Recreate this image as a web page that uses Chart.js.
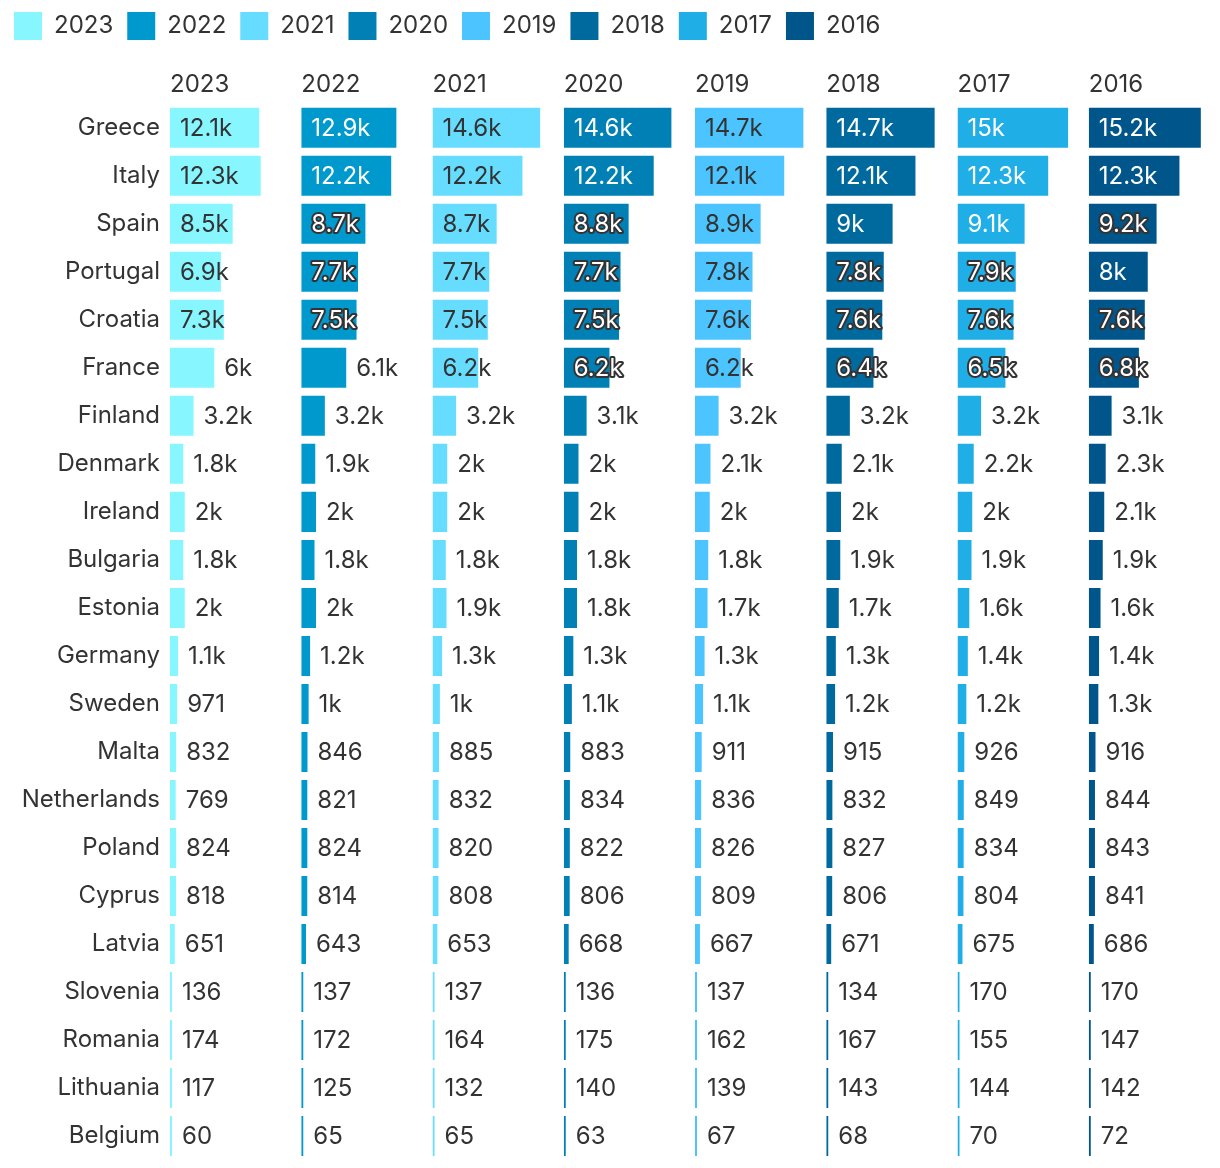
<!DOCTYPE html>
<html>
<head>
<meta charset="utf-8">
<script src="https://cdn.jsdelivr.net/npm/chart.js@4.4.1/dist/chart.umd.min.js"></script>
<style>
  html, body { margin: 0; padding: 0; background: #ffffff; }
  #wrap { width: 1220px; height: 1168px; }
</style>
</head>
<body>
<div id="wrap"><canvas id="c" width="1220" height="1168"></canvas></div>
<script>
// ---- data ----
const countries = ["Greece","Italy","Spain","Portugal","Croatia","France","Finland","Denmark","Ireland","Bulgaria","Estonia","Germany","Sweden","Malta","Netherlands","Poland","Cyprus","Latvia","Slovenia","Romania","Lithuania","Belgium"];
const years = ["2023","2022","2021","2020","2019","2018","2017","2016"];
const v2023 = [12100,12300,8500,6900,7300,6000,3200,1800,2000,1800,2000,1100,971,832,769,824,818,651,136,174,117,60];
const v2022 = [12900,12200,8700,7700,7500,6100,3200,1900,2000,1800,2000,1200,1000,846,821,824,814,643,137,172,125,65];
const v2021 = [14600,12200,8700,7700,7500,6200,3200,2000,2000,1800,1900,1300,1000,885,832,820,808,653,137,164,132,65];
const v2020 = [14600,12200,8800,7700,7500,6200,3100,2000,2000,1800,1800,1300,1100,883,834,822,806,668,136,175,140,63];
const v2019 = [14700,12100,8900,7800,7600,6200,3200,2100,2000,1800,1700,1300,1100,911,836,826,809,667,137,162,139,67];
const v2018 = [14700,12100,9000,7800,7600,6400,3200,2100,2000,1900,1700,1300,1200,915,832,827,806,671,134,167,143,68];
const v2017 = [15000,12300,9100,7900,7600,6500,3200,2200,2000,1900,1600,1400,1200,926,849,834,804,675,170,155,144,70];
const v2016 = [15200,12300,9200,8000,7600,6800,3100,2300,2100,1900,1600,1400,1300,916,844,843,841,686,170,147,142,72];
const seriesValues = [v2023, v2022, v2021, v2020, v2019, v2018, v2017, v2016];

// ---- styles ----
const colors = ["#88F6FF","#0099CE","#66DDFF","#0080B4","#4CC4FF","#006A9F","#20AEE6","#00568A"];
const labelOnDark = [false,true,false,true,false,true,true,true];
const TEXT = "#333333";
const FONT = "Inter, 'Noto Sans', sans-serif";
const FS = 24;
const AXIS_MAX = 17800;

function fmt(v) {
  if (v >= 1000) {
    let s = (v / 1000).toFixed(1);
    if (s.endsWith(".0")) s = s.slice(0, -2);
    return s + "k";
  }
  return String(Math.round(v));
}

const datasets = seriesValues.map((vals, i) => ({
  label: years[i],
  data: vals,
  backgroundColor: colors[i],
  borderWidth: 0,
  xAxisID: "x" + i,
  yAxisID: "y",
  grouped: false,
  barPercentage: 1,
  categoryPercentage: 40 / 48,
  minBarLength: 2
}));

const scales = {
  y: {
    type: "category",
    position: "left",
    grid: { display: false, drawTicks: false },
    border: { display: false },
    ticks: { color: TEXT, font: { family: FONT, size: FS }, padding: 10 },
    afterFit(scale) {
      scale.width = 170;
      scale.paddingTop = 0;
      scale.paddingBottom = 0;
    }
  }
};
// top-positioned stacked axes are laid out in reverse order, so add them last-to-first
for (let i = years.length - 1; i >= 0; i--) {
  scales["x" + i] = {
    type: "linear",
    position: "top",
    stack: "cols",
    stackWeight: 1,
    min: 0,
    max: AXIS_MAX,
    grid: { display: false, drawTicks: false },
    border: { display: false },
    ticks: { display: false },
    title: {
      display: true,
      text: years[i],
      align: "start",
      color: TEXT,
      font: { family: FONT, size: FS },
      padding: { top: 20, bottom: 5 }
    }
  };
}

const valueLabels = {
  id: "valueLabels",
  afterDatasetsDraw(chart) {
    const ctx = chart.ctx;
    ctx.save();
    ctx.font = FS + "px " + FONT;
    ctx.textBaseline = "middle";
    ctx.textAlign = "left";
    chart.data.datasets.forEach((ds, di) => {
      const meta = chart.getDatasetMeta(di);
      meta.data.forEach((bar, i) => {
        const v = ds.data[i];
        const text = fmt(v);
        const tw = ctx.measureText(text).width;
        const barW = bar.x - bar.base;
        const y = bar.y + 1;
        if (barW >= 45.3) {
          const x = bar.base + 10;
          if (labelOnDark[di]) {
            if (tw + 20 > barW) {
              ctx.lineJoin = "round";
              ctx.lineWidth = 4;
              ctx.strokeStyle = TEXT;
              ctx.strokeText(text, x, y);
            }
            ctx.fillStyle = "#ffffff";
          } else {
            ctx.fillStyle = TEXT;
          }
          ctx.fillText(text, x, y);
        } else {
          ctx.fillStyle = TEXT;
          ctx.fillText(text, bar.x + 10, y);
        }
      });
    });
    ctx.restore();
  }
};

new Chart(document.getElementById("c"), {
  type: "bar",
  data: { labels: countries, datasets },
  options: {
    indexAxis: "y",
    responsive: false,
    animation: false,
    layout: { padding: { left: 0, right: 0, top: -2, bottom: 8 } },
    plugins: {
      legend: {
        position: "top",
        align: "start",
        labels: {
          boxWidth: 28,
          boxHeight: 28,
          padding: 14,
          color: TEXT,
          font: { family: FONT, size: FS }
        }
      },
      tooltip: { enabled: false }
    },
    scales
  },
  plugins: [valueLabels]
});
</script>
</body>
</html>
